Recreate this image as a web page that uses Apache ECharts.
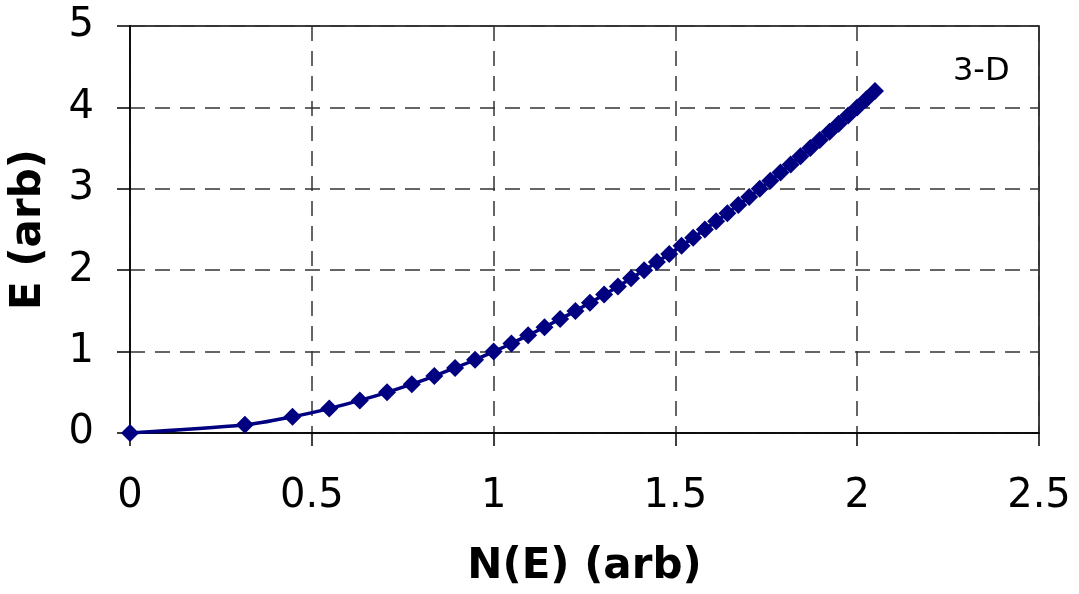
<!DOCTYPE html>
<html><head><meta charset="utf-8">
<script src="https://cdn.jsdelivr.net/npm/echarts@6/dist/echarts.min.js"></script>
<style>html,body{margin:0;padding:0;background:#fff}#c{width:1079px;height:594px}</style>
</head><body><div id="c"></div>
<script>
// E (arb) values
const energy = [0,0.1,0.2,0.3,0.4,0.5,0.6,0.7,0.8,0.9,1.0,1.1,1.2,1.3,1.4,1.5,1.6,1.7,1.8,1.9,2.0,2.1,2.2,2.3,2.4,2.5,2.6,2.7,2.8,2.9,3.0,3.1,3.2,3.3,3.4,3.5,3.6,3.7,3.8,3.9,4.0,4.1,4.2];
// N(E) (arb) values
const density = [0,0.316,0.447,0.548,0.632,0.707,0.775,0.837,0.894,0.949,1.000,1.049,1.095,1.140,1.183,1.225,1.265,1.304,1.342,1.378,1.414,1.449,1.483,1.517,1.549,1.581,1.612,1.643,1.673,1.703,1.732,1.761,1.789,1.817,1.844,1.871,1.897,1.924,1.949,1.975,2.000,2.025,2.049];
const xTicks = [0,0.5,1,1.5,2,2.5];
const yTicks = [0,1,2,3,4,5];
const seriesLabel = '3-D';
const xTitle = 'N(E) (arb)';
const yTitle = 'E (arb)';

const font = 'DejaVu Sans, Verdana, sans-serif';
const chart = echarts.init(document.getElementById('c'));
chart.setOption({
  animation: false,
  grid: {left:129, top:26, right:40, bottom:161, show:true, borderColor:'#000', borderWidth:1.5, backgroundColor:'transparent'},
  xAxis: {
    type:'value', min:xTicks[0], max:xTicks[xTicks.length-1], interval:0.5,
    name:xTitle, nameLocation:'middle', nameGap:113,
    nameTextStyle:{fontFamily:font, fontSize:42, fontWeight:'bold', color:'#000'},
    axisLine:{show:true, lineStyle:{color:'#000', width:1.5}},
    axisTick:{show:true, length:13, lineStyle:{color:'#000', width:1.5}},
    axisLabel:{fontFamily:font, fontSize:40, color:'#000', margin:44, formatter: v => String(v)},
    splitLine:{show:true, lineStyle:{color:'#333', width:1.5, type:[15,10]}}
  },
  yAxis: {
    type:'value', min:yTicks[0], max:yTicks[yTicks.length-1], interval:1,
    name:yTitle, nameLocation:'middle', nameGap:80,
    nameTextStyle:{fontFamily:font, fontSize:42, fontWeight:'bold', color:'#000'},
    axisLine:{show:true, lineStyle:{color:'#000', width:1.5}},
    axisTick:{show:true, length:13, lineStyle:{color:'#000', width:1.5}},
    axisLabel:{fontFamily:font, fontSize:40, color:'#000', margin:36},
    splitLine:{show:true, lineStyle:{color:'#333', width:1.5, type:[15,10]}}
  },
  series: [{
    type:'line', name:seriesLabel,
    data: density.map((n,i) => [n, energy[i]]),
    smooth: 0.3,
    symbol:'diamond', symbolSize:18,
    lineStyle:{color:'#000080', width:3.5},
    itemStyle:{color:'#000080'}
  }],
  graphic: [{
    type:'text', left:953, top:56,
    style:{text:seriesLabel, font:'32px DejaVu Sans, Verdana, sans-serif', fill:'#000'}
  }]
});
</script></body></html>
